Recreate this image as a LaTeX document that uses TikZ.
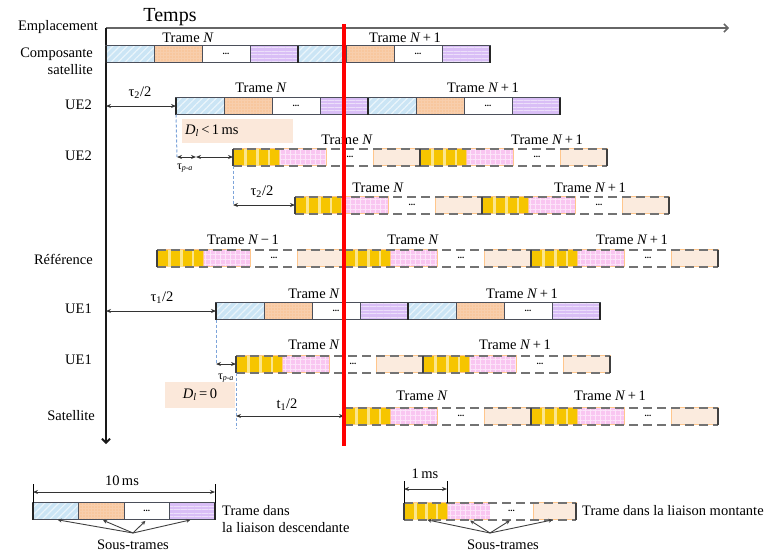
\documentclass[tikz,border=0pt]{standalone}
\usepackage{fontspec}
\setmainfont{Liberation Serif}
\usetikzlibrary{arrows.meta, positioning, calc, patterns.meta}

\definecolor{dlblue}{HTML}{CBE5F5}
\definecolor{dlorange}{HTML}{F8CEAC}
\definecolor{dlpurple}{HTML}{D9BEF6}
\definecolor{ulyellow}{HTML}{F6C500}
\definecolor{ulpink}{HTML}{F9C6F1}
\definecolor{ulpeach}{HTML}{FBEBDE}
\definecolor{dboxfill}{HTML}{FBE8DA}
\definecolor{guidecol}{HTML}{7DA4DA}
\definecolor{framegray}{HTML}{4B4F5A}

\tikzstyle{seg} = [rectangle, inner sep=0pt, outer sep=0pt,
minimum height=17pt,
draw=framegray, line width=0.8pt]
\tikzstyle{dlb} = [seg, preaction={fill=dlblue},
pattern={Lines[angle=45,distance=5pt,line width=1.2pt]},
pattern color=white!60!dlblue]
\tikzstyle{dlo} = [seg, preaction={fill=dlorange},
pattern={Dots[distance=3pt,radius=0.6pt]},
pattern color=dlorange!65!orange]
\tikzstyle{dlw} = [seg, fill=white, font=\fontsize{9}{9}\selectfont\bfseries]
\tikzstyle{dlp} = [seg, preaction={fill=dlpurple},
pattern={Lines[angle=0,distance=3.5pt,line width=0.8pt]},
pattern color=white!50!dlpurple]
\tikzstyle{uly} = [seg, draw=orange!45, fill=ulyellow]
\tikzstyle{ulp} = [seg, draw=orange!45, preaction={fill=ulpink},
pattern={Hatch[distance=5pt,line width=1pt]},
pattern color=white!55!ulpink]
\tikzstyle{ulw} = [seg, draw=none, fill=white, font=\fontsize{9}{9}\selectfont\bfseries]
\tikzstyle{ule} = [seg, draw=orange!45, fill=ulpeach]
\tikzstyle{ystripe} = [line width=2.5pt, draw=ulyellow!45!white]
\tikzstyle{dlout} = [line width=1.3pt, draw=framegray]
\tikzstyle{dlend} = [line width=2.5pt, draw=black!85]
\tikzstyle{uldash} = [line width=2pt, draw=black!55, dash pattern=on 9pt off 5pt]
\tikzstyle{ulend} = [line width=1.8pt, draw=black!75]
\tikzstyle{dim} = [line width=0.9pt, draw=black!80,
{Stealth[length=5pt,width=4pt]}-{Stealth[length=5pt,width=4pt]}]
\tikzstyle{subarrow} = [line width=0.9pt, draw=black!75, -{Stealth[length=4pt,width=4pt]}]
\tikzstyle{guide} = [line width=1pt, draw=guidecol, dash pattern=on 3pt off 2pt]
\tikzstyle{redline} = [line width=4pt, draw=red]
\tikzstyle{taxis} = [line width=1.5pt, draw=black!60, -{Straight Barb[length=4pt,width=8pt]}]
\tikzstyle{vaxis} = [line width=1.8pt, draw=black!90, -{Straight Barb[length=4pt,width=8pt]}]
\tikzstyle{rowlabel} = [anchor=east, inner sep=0pt]
\tikzstyle{flabel} = [inner sep=0pt]
\tikzstyle{dboxstyle} = [fill=dboxfill, inner sep=0pt]

% downlink frame: name, west point, segment width
\newcommand{\dlframe}[3]{%
  \node (#1a) [dlb, minimum width=#3pt, anchor=west] at #2 {};
  \node (#1b) [dlo, minimum width=#3pt, right=0pt of #1a] {};
  \node (#1c) [dlw, minimum width=#3pt, right=0pt of #1b] {...};
  \node (#1d) [dlp, minimum width=#3pt, right=0pt of #1c] {};
  \draw [dlout] (#1a.north west) rectangle (#1d.south east);
  \draw [dlend] (#1a.north west) -- (#1a.south west);
  \draw [dlend] (#1d.north east) -- (#1d.south east);
}
% uplink frame: name, west point, segment width
\newcommand{\ulframe}[3]{%
  \node (#1a) [uly, minimum width=#3pt, anchor=west] at #2 {};
  \node (#1b) [ulp, minimum width=#3pt, right=0pt of #1a] {};
  \node (#1c) [ulw, minimum width=#3pt, right=0pt of #1b] {...};
  \node (#1d) [ule, minimum width=#3pt, right=0pt of #1c] {};
  \foreach \k in {0.27,0.52,0.77}
    \draw [ystripe] ($(#1a.north west)!\k!(#1a.north east)$) -- ($(#1a.south west)!\k!(#1a.south east)$);
  \draw [uldash] (#1a.north west) -- (#1d.north east);
  \draw [uldash] (#1a.south west) -- (#1d.south east);
  \draw [ulend] (#1a.north west) -- (#1a.south west);
  \draw [ulend] (#1d.north east) -- (#1d.south east);
}

\begin{document}
\begin{tikzpicture}[x=1pt, y=-1pt, font=\fontsize{14.5}{17}\selectfont]
\useasboundingbox (0,0) rectangle (769,555);

% axes
\coordinate (o) at (106,28);
\coordinate (tend) at (729,28);
\coordinate (yend) at (106,444);
\draw [taxis] (o) -- (tend);
\draw [vaxis] (o) -- (yend);
\node (temps) [font=\fontsize{20}{22}\selectfont] at (170,17) {Temps};
\node (empl) [rowlabel] at (98,27) {Emplacement};

\node (lcs) [rowlabel, align=right] at (93,61) {Composante\\satellite};
\node (lue2a) [rowlabel] at (92,105) {UE2};
\node (lue2b) [rowlabel] at (92,156) {UE2};
\node (lref) [rowlabel] at (93,259) {Référence};
\node (lue1a) [rowlabel] at (92,309) {UE1};
\node (lue1b) [rowlabel] at (92,360) {UE1};
\node (lsat) [rowlabel] at (95,416) {Satellite};

% shaded delay boxes
\node (dl2) [dboxstyle, anchor=west, minimum height=24pt, text width=105pt, inner xsep=3pt, align=left] at (182,131) {\textit{D}\textsubscript{\textit{l}}\,<\,1\,ms};
\node (dl1) [dboxstyle, minimum width=70pt, minimum height=26pt] at (200,395) {\textit{D}\textsubscript{\textit{l}}\,=\,0};

% frames
\dlframe{csA}{(106,54)}{48}
\dlframe{csB}{(csAd.east)}{48}
\dlframe{ue2dA}{(176,106)}{48}
\dlframe{ue2dB}{(ue2dAd.east)}{48}
\ulframe{ue2uA}{(233,157)}{46.75}
\ulframe{ue2uB}{(ue2uAd.east)}{46.75}
\ulframe{ue2rA}{(295,205)}{46.75}
\ulframe{ue2rB}{(ue2rAd.east)}{46.75}
\ulframe{rfA}{(157,258)}{46.75}
\ulframe{rfB}{(rfAd.east)}{46.75}
\ulframe{rfC}{(rfBd.east)}{46.75}
\dlframe{ue1dA}{(216,311)}{48}
\dlframe{ue1dB}{(ue1dAd.east)}{48}
\ulframe{ue1uA}{(236,364)}{46.75}
\ulframe{ue1uB}{(ue1uAd.east)}{46.75}
\ulframe{satA}{(344,416)}{46.75}
\ulframe{satB}{(satAd.east)}{46.75}

\node (csAt) [flabel] at (188,38) {Trame \textit{N}};
\node (csBt) [flabel] at (405,38) {Trame \textit{N}\,+\,1};
\node (ue2dAt) [flabel] at (261,88) {Trame \textit{N}};
\node (ue2dBt) [flabel] at (483,88) {Trame \textit{N}\,+\,1};
\node (ue2uAt) [flabel] at (347,140) {Trame \textit{N}};
\node (ue2uBt) [flabel] at (547,140) {Trame \textit{N}\,+\,1};
\node (ue2rAt) [flabel] at (378,188) {Trame \textit{N}};
\node (ue2rBt) [flabel] at (590,188) {Trame \textit{N}\,+\,1};
\node (rfAt) [flabel] at (243,240) {Trame \textit{N}\,−\,1};
\node (rfBt) [flabel] at (413,240) {Trame \textit{N}};
\node (rfCt) [flabel] at (632,240) {Trame \textit{N}\,+\,1};
\node (ue1dAt) [flabel] at (314,294) {Trame \textit{N}};
\node (ue1dBt) [flabel] at (522,294) {Trame \textit{N}\,+\,1};
\node (ue1uAt) [flabel] at (314,345) {Trame \textit{N}};
\node (ue1uBt) [flabel] at (515,345) {Trame \textit{N}\,+\,1};
\node (satAt) [flabel] at (422,396) {Trame \textit{N}};
\node (satBt) [flabel] at (610,396) {Trame \textit{N}\,+\,1};

% delays
\coordinate (ax2) at (106,106);
\draw [dim] (ax2) -- (ue2dAa.west);
\node (tau2a) [flabel] at (140,93) {τ\textsubscript{2}/2};
\coordinate (pa2) at (177,157);
\coordinate (pa2m) at (196,157);
\draw [guide] (ue2dAa.south west) -- (pa2);
\draw [dim] (pa2) -- (pa2m);
\draw [dim] (pa2m) -- (ue2uAa.west);
\node (tpa2) [flabel, font=\fontsize{12}{12}\selectfont] at (185,168) {τ\textsubscript{\textit{p-a}}};
\coordinate (t2s) at (233,205);
\draw [guide] (ue2uAa.south west) -- (t2s);
\draw [dim] (t2s) -- (ue2rAa.west);
\node (tau2b) [flabel] at (262,192) {τ\textsubscript{2}/2};

\coordinate (ax6) at (106,311);
\draw [dim] (ax6) -- (ue1dAa.west);
\node (tau1) [flabel] at (162,298) {τ\textsubscript{1}/2};
\coordinate (pa1) at (216,364);
\draw [guide] (ue1dAa.south west) -- (pa1);
\draw [dim] (pa1) -- (ue1uAa.west);
\node (tpa1) [flabel, font=\fontsize{12}{12}\selectfont] at (226,378) {τ\textsubscript{\textit{p-a}}};
\coordinate (t1s) at (236,416);
\coordinate (g4) at (236,428);
\draw [guide] (ue1uAa.south west) -- (g4);
\draw [dim] (t1s) -- (satAa.west);
\node (t1) [flabel] at (287,405) {t\textsubscript{1}/2};

% red reference instant
\coordinate (rt) at (344,24);
\coordinate (rb) at (344,446);
\draw [redline] (rt) -- (rb);

% legend, downlink
\dlframe{lgd}{(33,511)}{45.5}
\coordinate (lgdl) at (33,484);
\coordinate (lgdr) at (215,484);
\draw [line width=1pt] (lgda.north west) -- (lgdl);
\draw [line width=1pt] (lgdd.north east) -- (lgdr);
\coordinate (lgdal) at (33,492);
\coordinate (lgdar) at (215,492);
\draw [dim] (lgdal) -- (lgdar);
\node (l10) [flabel] at (122,481) {10\,ms};
\node (lgdtxt) [anchor=west, align=left, inner sep=0pt] at (222,519) {Trame dans\\la liaison descendante};
\node (lgdst) [flabel] at (133,545) {Sous-trames};
\coordinate (lgdj) at (133,533);
\foreach \s in {a,b,c,d}
  \draw [subarrow, shorten >=2pt] (lgdj) -- (lgd\s.south);

% legend, uplink
\ulframe{lgu}{(404,511)}{43}
\coordinate (lgul) at (404,481);
\coordinate (lgur) at (447,481);
\draw [line width=1pt] (lgua.north west) -- (lgul);
\draw [line width=1pt] (lgua.north east) -- (lgur);
\coordinate (lgual) at (404,489);
\coordinate (lguar) at (447,489);
\draw [dim] (lgual) -- (lguar);
\node (l1) [flabel] at (425,474) {1\,ms};
\node (lgutxt) [anchor=west, inner sep=0pt] at (582,511) {Trame dans la liaison montante};
\node (lgust) [flabel] at (503,545) {Sous-trames};
\coordinate (lguj) at (490,533);
\foreach \s in {a,b,c,d}
  \draw [subarrow, shorten >=2pt] (lguj) -- (lgu\s.south);

\end{tikzpicture}
\end{document}
